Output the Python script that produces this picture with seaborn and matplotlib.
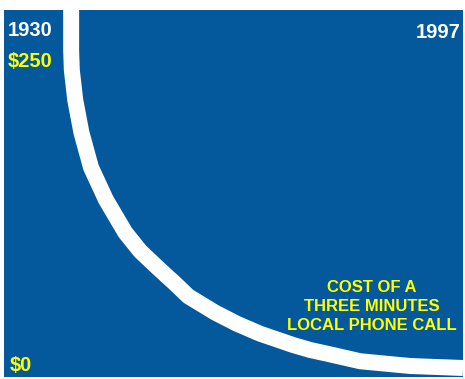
import matplotlib
matplotlib.use("Agg")
import matplotlib.pyplot as plt
import seaborn as sns
import pandas as pd

# Data (year, cost in dollars of a 3-minute local call)
years = [1939.8, 1939.8, 1939.8, 1939.9, 1940.4, 1941.3, 1942.7, 1944.9,
         1947.7, 1949.9, 1952.8, 1955.0, 1956.9, 1960.8, 1964.0, 1967.4,
         1972.2, 1974.7, 1977.2, 1982.0, 1989.3, 1997.0]
costs = [304, 288, 256, 240, 216, 190, 162, 136,
         110, 95, 80, 69, 59, 46, 37, 29,
         20, 16, 13, 7, 3.2, 1.6]
year_labels = ["1930", "1997"]
cost_labels = ["$250", "$0"]
caption_lines = ["COST OF A", "THREE MINUTES", "LOCAL PHONE CALL"]

sns.set_theme(style="white")
plt.rcParams["font.family"] = ["Liberation Sans", "DejaVu Sans"]

W, H = 465, 379
fig = plt.figure(figsize=(W / 100, H / 100), dpi=100)
fig.patch.set_facecolor("white")

# blue panel from px x=4..463, y=10..377
ax = fig.add_axes([4 / W, (H - 377) / H, 459 / W, 367 / H])
blue = "#04589c"
ax.set_facecolor(blue)

df = pd.DataFrame({"year": years, "cost": costs})
sns.lineplot(data=df, x="year", y="cost", sort=False, estimator=None,
             color="white", linewidth=11.5, ax=ax)
for ln in ax.get_lines():
    ln.set_solid_joinstyle("round")
    ln.set_solid_capstyle("butt")

ax.set_xlim(1930, 1997)
ax.set_ylim(-5.6, 288)
ax.set_xticks([])
ax.set_yticks([])
ax.set_xlabel("")
ax.set_ylabel("")
for s in ax.spines.values():
    s.set_visible(False)


def px(x, y):
    return x / W, 1 - y / H


yellow = "#ffff00"
fs = 14.5
fig.text(*px(8, 36), year_labels[0], color="white", fontsize=fs,
         fontweight="bold", ha="left", va="baseline")
fig.text(*px(461, 38), year_labels[1], color="white", fontsize=fs,
         fontweight="bold", ha="right", va="baseline")
fig.text(*px(8, 67), cost_labels[0], color=yellow, fontsize=fs,
         fontweight="bold", ha="left", va="baseline")
fig.text(*px(10, 371), cost_labels[1], color=yellow, fontsize=fs,
         fontweight="bold", ha="left", va="baseline")

for line, base in zip(caption_lines, [292, 311, 330]):
    fig.text(*px(372, base), line, color=yellow, fontsize=12,
             fontweight="bold", ha="center", va="baseline")

fig.savefig("out.png", dpi=100, facecolor="white")
